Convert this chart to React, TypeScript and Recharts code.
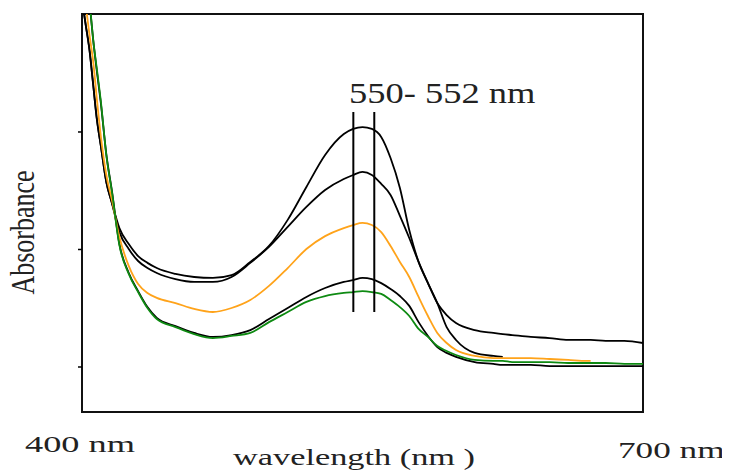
import React from "react";
import { LineChart, Line, XAxis, YAxis, ReferenceLine, ReferenceArea } from "recharts";

const wavelengths = [400, 402, 404, 406, 408, 410, 413, 416, 420, 425, 430, 435, 440, 450, 460, 470, 480, 490, 500, 510, 520, 530, 540, 545, 550, 555, 560, 565, 570, 575, 580, 585, 590, 595, 600, 610, 620, 625, 630, 640, 650, 660, 670, 672, 680, 690, 700];

const seriesA = [1.562, 1.455, 1.349, 1.2, 1.051, 0.945, 0.787, 0.698, 0.591, 0.523, 0.472, 0.443, 0.421, 0.396, 0.383, 0.379, 0.391, 0.447, 0.515, 0.626, 0.766, 0.902, 0.991, 1.013, 1.021, 1.013, 0.979, 0.889, 0.762, 0.583, 0.447, 0.357, 0.272, 0.221, 0.187, 0.157, 0.145, 0.14, 0.136, 0.128, 0.123, 0.115, 0.115, 0.115, 0.111, 0.111, 0.102];

const seriesB = [1.562, 1.455, 1.349, 1.2, 1.051, 0.945, 0.787, 0.698, 0.574, 0.502, 0.451, 0.421, 0.4, 0.374, 0.362, 0.362, 0.383, 0.443, 0.511, 0.596, 0.681, 0.753, 0.8, 0.817, 0.83, 0.817, 0.779, 0.732, 0.643, 0.549, 0.447, 0.357, 0.272, 0.17, 0.115, 0.06, 0.047, 0.043, null, null, null, null, null, null, null, null, null];

const seriesOrange = [1.668, 1.54, 1.413, 1.298, 1.136, 0.987, 0.817, 0.711, 0.553, 0.43, 0.353, 0.315, 0.294, 0.272, 0.247, 0.234, 0.251, 0.285, 0.345, 0.421, 0.502, 0.557, 0.591, 0.604, 0.613, 0.604, 0.574, 0.515, 0.447, 0.383, 0.298, 0.217, 0.145, 0.102, 0.072, 0.047, 0.038, 0.038, 0.038, 0.038, 0.034, 0.03, 0.026, 0.026, null, null, null];

const seriesD = [1.851, 1.723, 1.553, 1.391, 1.255, 1.128, 0.906, 0.749, 0.523, 0.4, 0.323, 0.255, 0.209, 0.174, 0.145, 0.128, 0.136, 0.157, 0.204, 0.251, 0.298, 0.336, 0.362, 0.37, 0.379, 0.374, 0.357, 0.332, 0.302, 0.26, 0.191, 0.132, 0.085, 0.06, 0.043, 0.021, 0.013, 0.009, 0.009, 0.009, 0.004, 0.004, 0.004, 0.004, 0.004, 0.004, 0.004];

const seriesGreen = [1.86, 1.732, 1.562, 1.391, 1.264, 1.136, 0.902, 0.745, 0.519, 0.396, 0.319, 0.251, 0.204, 0.17, 0.14, 0.123, 0.132, 0.145, 0.191, 0.234, 0.277, 0.302, 0.315, 0.319, 0.323, 0.319, 0.311, 0.285, 0.255, 0.217, 0.162, 0.128, 0.089, 0.068, 0.051, 0.03, 0.026, 0.026, 0.021, 0.021, 0.021, 0.017, 0.017, 0.017, 0.017, 0.013, 0.013];

const peakMarkers = [545.1, 556.3];
const markerSpan = [1.085, 0.234];
const yTicks = [0, 0.5, 1.0];
const X_DOMAIN: [number, number] = [400, 700];
const Y_DOMAIN: [number, number] = [-0.1915, 1.502];

const data = wavelengths.map((wl, i) => ({
  wl,
  a: seriesA[i],
  b: seriesB[i],
  o: seriesOrange[i],
  d: seriesD[i],
  g: seriesGreen[i],
}));

const FONT = "'Liberation Serif', 'Times New Roman', serif";

const EmptyTick = () => <g />;

export default function App() {
  return (
    <div style={{ position: "relative", width: 722, height: 463 }}>
      <LineChart width={722} height={463} data={data} margin={{ top: 6, right: 87, bottom: 59, left: 70 }}>
        <XAxis dataKey="wl" type="number" domain={X_DOMAIN} allowDataOverflow hide />
        <YAxis
          type="number"
          domain={Y_DOMAIN}
          allowDataOverflow
          ticks={yTicks}
          tick={EmptyTick}
          axisLine={false}
          tickLine={{ stroke: "#000", strokeWidth: 1.5 }}
          tickSize={4}
          width={4}
        />
        <ReferenceArea x1={X_DOMAIN[0]} x2={X_DOMAIN[1]} y1={Y_DOMAIN[0]} y2={Y_DOMAIN[1]} fill="none" stroke="#111" strokeWidth={2} ifOverflow="visible" />
        <Line dataKey="a" type="monotone" stroke="#000" strokeWidth={1.8} dot={false} isAnimationActive={false} />
        <Line dataKey="b" type="monotone" stroke="#000" strokeWidth={1.8} dot={false} isAnimationActive={false} />
        <Line dataKey="d" type="monotone" stroke="#000" strokeWidth={1.8} dot={false} isAnimationActive={false} />
        <Line dataKey="o" type="monotone" stroke="#FFA31A" strokeWidth={1.8} dot={false} isAnimationActive={false} />
        <Line dataKey="g" type="monotone" stroke="#0E8A12" strokeWidth={1.8} dot={false} isAnimationActive={false} />
        {peakMarkers.map((x) => (
          <ReferenceLine
            key={x}
            segment={[
              { x, y: markerSpan[0] },
              { x, y: markerSpan[1] },
            ]}
            stroke="#000"
            strokeWidth={2}
          />
        ))}
      </LineChart>
      <svg width={722} height={463} style={{ position: "absolute", left: 0, top: 0, pointerEvents: "none" }}>
        <text fontFamily={FONT} fontSize={28.5} fill="#222" transform="translate(341,95) scale(1.28,1)">550- 552 nm</text>
        <text fontFamily={FONT} fontSize={23} fill="#222" transform="translate(17,444) scale(1.58,1)">400 nm</text>
        <text fontFamily={FONT} fontSize={23} fill="#222" transform="translate(610,450) scale(1.53,1)">700 nm</text>
        <text fontFamily={FONT} fontSize={24} fill="#222" transform="translate(225,457) scale(1.43,1)">wavelength (nm )</text>
        <text fontFamily={FONT} fontSize={26} fill="#222" textAnchor="middle" transform="translate(26,224.5) rotate(-90) scale(1,1.3)">Absorbance</text>
      </svg>
    </div>
  );
}
